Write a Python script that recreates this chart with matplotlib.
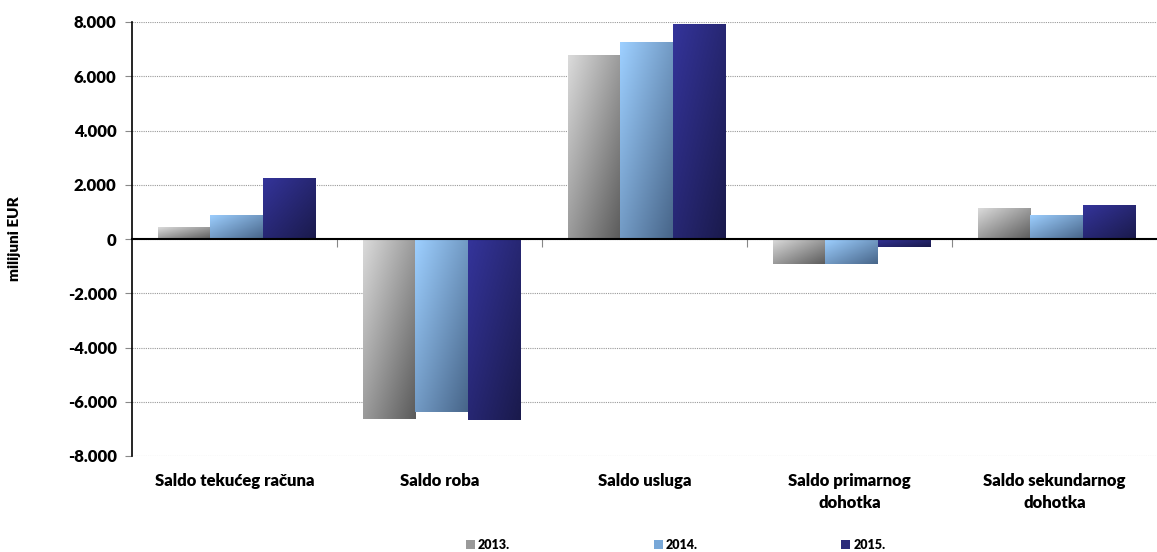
import numpy as np
import matplotlib
matplotlib.use("Agg")
import matplotlib.pyplot as plt
from matplotlib.patches import Patch
from matplotlib.ticker import FuncFormatter
from matplotlib.colors import to_rgb

plt.rcParams['font.family'] = ['Lato', 'DejaVu Sans']
plt.rcParams['font.weight'] = 'heavy'

# data (milijuni EUR)
categories = ['Saldo tekućeg računa', 'Saldo roba', 'Saldo usluga',
              'Saldo primarnog\ndohotka', 'Saldo sekundarnog\ndohotka']
years = ['2013.', '2014.', '2015.']
v2013 = [440, -6640, 6780, -920, 1140]
v2014 = [885, -6380, 7260, -920, 885]
v2015 = [2250, -6670, 7930, -295, 1250]
yticks = [-8000, -6000, -4000, -2000, 0, 2000, 4000, 6000, 8000]

# gradient (light top-left -> dark bottom-right) per series
grads = [('#dadada', '#5c5c5c'), ('#9dcfff', '#48668a'), ('#34349a', '#1a1a4c')]
legend_cols = ['#9a9a9a', '#78a8d8', '#2a2a7a']

fig = plt.figure(figsize=(11.57, 5.52), dpi=100)
ax = fig.add_axes([132 / 1157, 1 - 456 / 552, 1 - 132 / 1157, (456 - 22) / 552])

x = np.arange(len(categories))
w = 0.255
n = 32
gi, gj = np.mgrid[0:n, 0:n] / (n - 1)
t = (gi + gj) / 2.0

for k, vals in enumerate([v2013, v2014, v2015]):
    bars = ax.bar(x + (k - 1) * w + 0.01, vals, w, color='none', edgecolor='none', zorder=3)
    c0 = np.array(to_rgb(grads[k][0]))
    c1 = np.array(to_rgb(grads[k][1]))
    img = c0[None, None, :] * (1 - t[..., None]) + c1[None, None, :] * t[..., None]
    for b in bars:
        x0, y0 = b.get_x(), b.get_y()
        x1, y1 = x0 + b.get_width(), y0 + b.get_height()
        lo, hi = min(y0, y1), max(y0, y1)
        im = ax.imshow(img, extent=(x0, x1, lo, hi), origin='upper',
                       aspect='auto', interpolation='bilinear', zorder=3)
        im.set_clip_path(b)

ax.set_xlim(-0.5, len(categories) - 0.5)
ax.set_ylim(-8000, 8000)
ax.set_yticks(yticks)
ax.yaxis.set_major_formatter(FuncFormatter(lambda v, p: f"{v:,.0f}".replace(',', '.')))
ax.tick_params(axis='y', length=5, color='#888888', labelsize=12, pad=6)
ax.grid(axis='y', color='#999999', linestyle=(0, (1, 1)), linewidth=0.8, zorder=0)
ax.set_axisbelow(True)

# zero line with category boundary ticks
ax.spines['bottom'].set_position(('data', 0))
ax.spines['bottom'].set_linewidth(1.5)
ax.spines['bottom'].set_zorder(4)
ax.set_xticks(np.arange(0.5, len(categories) - 0.5))
ax.tick_params(axis='x', length=6, color='#888888', labelbottom=False)
ax.spines['top'].set_visible(False)
ax.spines['right'].set_visible(False)
ax.spines['left'].set_linewidth(1.2)

# category labels below the plot
sec = ax.secondary_xaxis('bottom')
sec.set_xticks(x)
sec.set_xticklabels(categories, fontsize=12, fontweight='heavy', linespacing=1.45)
sec.tick_params(length=0, pad=12)
sec.spines['bottom'].set_visible(False)

ax.set_ylabel('milijuni EUR', fontsize=11, fontweight='heavy', labelpad=34)

handles = [Patch(facecolor=c, edgecolor='none') for c in legend_cols]
fig.legend(handles, years, loc='lower center', bbox_to_anchor=(0.584, -0.018),
           ncol=3, frameon=False, fontsize=9, handlelength=0.7, handleheight=0.7,
           handletextpad=0.25, columnspacing=11.5)

fig.savefig('out.png', dpi=100)
